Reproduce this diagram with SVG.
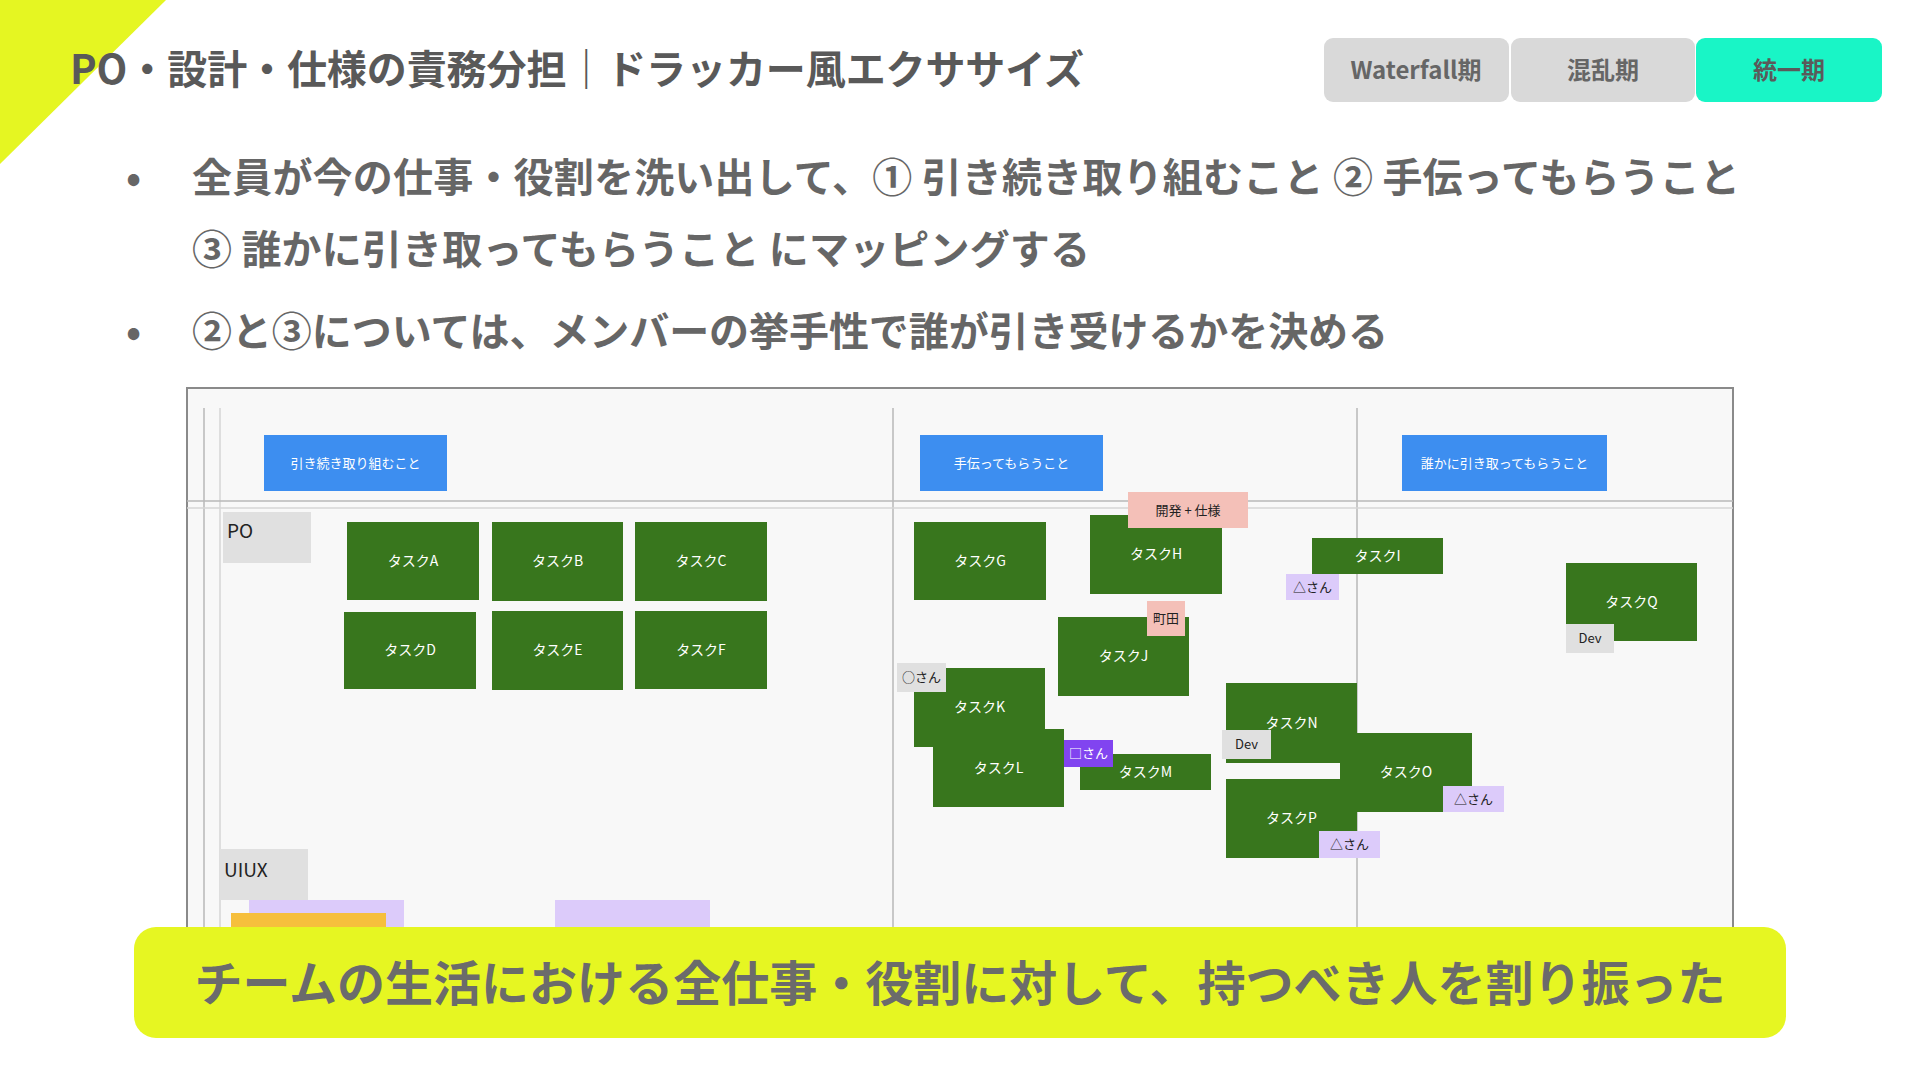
<svg xmlns="http://www.w3.org/2000/svg" width="1920" height="1079" viewBox="0 0 1920 1079">
<style>
text{font-family:"Noto Sans CJK JP","Noto Sans",sans-serif}
.title{font-size:40px;font-weight:700;fill:#595959}
.bul{font-size:40px;font-weight:700;fill:#666666}
.tab{font-size:24px;font-weight:700;fill:#666666}
.task rect{fill:#38761d}
.task text{font-size:14px;fill:#ffffff;text-anchor:middle}
.hdr rect{fill:#3d8ef0}
.hdr text{font-size:13px;fill:#ffffff;text-anchor:middle}
.lbl text{font-size:13px;fill:#222222;text-anchor:middle}
.pink{fill:#f4c0b8}
.lav{fill:#dccbfa}
.gry{fill:#e0e0e0}
.pur{fill:#8144f0}
.row text{font-size:19px;fill:#222222}
.bline{stroke:#b8b8b8;stroke-width:1.5}
.bline2{stroke:#d6d6d6;stroke-width:1.5}
</style>
<rect x="0" y="0" width="1920" height="1079" fill="#ffffff"/>
<polygon id="corner" points="0,0 166,0 0,164" fill="#e5f622"/>
<text class="title" x="70" y="84" textLength="1014" lengthAdjust="spacing">PO・設計・仕様の責務分担｜ドラッカー風エクササイズ</text>

<g id="tab-waterfall"><rect x="1324" y="38" width="185" height="64" rx="9" fill="#d9d9d9"/><text class="tab" x="1416" y="79" text-anchor="middle">Waterfall期</text></g>
<g id="tab-konran"><rect x="1511" y="38" width="184" height="64" rx="9" fill="#d9d9d9"/><text class="tab" x="1603" y="79" text-anchor="middle">混乱期</text></g>
<g id="tab-toitsu"><rect x="1696" y="38" width="186" height="64" rx="9" fill="#19f5c6"/><text class="tab" x="1789" y="79" text-anchor="middle" style="fill:#5a5a5a">統一期</text></g>

<g id="bullets">
<text class="bul" x="126" y="192">•</text>
<text class="bul" x="192" y="192" textLength="1548" lengthAdjust="spacing">全員が今の仕事・役割を洗い出して、① 引き続き取り組むこと ② 手伝ってもらうこと</text>
<text class="bul" x="192" y="264" textLength="898" lengthAdjust="spacing">③ 誰かに引き取ってもらうこと にマッピングする</text>
<text class="bul" x="126" y="346">•</text>
<text class="bul" x="192" y="346" textLength="1196" lengthAdjust="spacing">②と③については、メンバーの挙手性で誰が引き受けるかを決める</text>
</g>

<g id="board">
<rect x="187" y="388" width="1546" height="580" fill="#f8f8f8" stroke="#8a8a8a" stroke-width="2"/>
<line class="bline" x1="204" y1="408" x2="204" y2="968"/>
<line class="bline2" x1="220" y1="408" x2="220" y2="968"/>
<line class="bline" x1="893" y1="408" x2="893" y2="968"/>
<line class="bline" x1="1357" y1="408" x2="1357" y2="968"/>
<line class="bline" x1="187" y1="501" x2="1733" y2="501"/>
<line class="bline2" x1="187" y1="508" x2="1733" y2="508"/>
</g>

<g id="hdr-1" class="hdr"><rect x="264" y="435" width="183" height="56"/><text x="355.5" y="468">引き続き取り組むこと</text></g>
<g id="hdr-2" class="hdr"><rect x="920" y="435" width="183" height="56"/><text x="1011.5" y="468">手伝ってもらうこと</text></g>
<g id="hdr-3" class="hdr"><rect x="1402" y="435" width="205" height="56"/><text x="1504.5" y="468">誰かに引き取ってもらうこと</text></g>

<g id="row-po" class="row"><rect x="223" y="512" width="88" height="51" class="gry"/><text x="227" y="538">PO</text></g>
<g id="row-uiux" class="row"><rect x="220" y="849" width="88" height="51" class="gry"/><text x="224" y="877">UIUX</text></g>

<g id="taskA" class="task"><rect x="347" y="522" width="132" height="78"/><text x="413" y="566">タスクA</text></g>
<g id="taskB" class="task"><rect x="492" y="522" width="131" height="79"/><text x="557.5" y="566">タスクB</text></g>
<g id="taskC" class="task"><rect x="635" y="522" width="132" height="79"/><text x="701" y="566">タスクC</text></g>
<g id="taskD" class="task"><rect x="344" y="612" width="132" height="77"/><text x="410" y="655">タスクD</text></g>
<g id="taskE" class="task"><rect x="492" y="611" width="131" height="79"/><text x="557.5" y="655">タスクE</text></g>
<g id="taskF" class="task"><rect x="635" y="611" width="132" height="78"/><text x="701" y="655">タスクF</text></g>

<g id="taskG" class="task"><rect x="914" y="522" width="132" height="78"/><text x="980" y="566">タスクG</text></g>
<g id="taskH" class="task"><rect x="1090" y="515" width="132" height="79"/><text x="1156" y="559">タスクH</text></g>
<g id="lbl-dev-spec" class="lbl"><rect x="1128" y="492" width="120" height="36" class="pink"/><text x="1188" y="515">開発 + 仕様</text></g>
<g id="taskI" class="task"><rect x="1312" y="538" width="131" height="36"/><text x="1377.5" y="561">タスクI</text></g>
<g id="lbl-i" class="lbl"><rect x="1286" y="574" width="53" height="26" class="lav"/><text x="1312.5" y="592">△さん</text></g>
<g id="taskJ" class="task"><rect x="1058" y="617" width="131" height="79"/><text x="1123.5" y="661">タスクJ</text></g>
<g id="lbl-machida" class="lbl"><rect x="1147" y="601" width="38" height="35" class="pink"/><text x="1166" y="623">町田</text></g>
<g id="taskK" class="task"><rect x="914" y="668" width="131" height="79"/><text x="979.5" y="712">タスクK</text></g>
<g id="lbl-k" class="lbl"><rect x="897" y="663" width="49" height="29" class="gry"/><text x="921.5" y="682">○さん</text></g>
<g id="taskL" class="task"><rect x="933" y="729" width="131" height="78"/><text x="998.5" y="773">タスクL</text></g>
<g id="taskM" class="task"><rect x="1080" y="754" width="131" height="36"/><text x="1145.5" y="777">タスクM</text></g>
<g id="lbl-l" class="lbl"><rect x="1064" y="740" width="49" height="27" class="pur"/><text x="1088.5" y="758" style="fill:#ffffff">□さん</text></g>
<g id="taskN" class="task"><rect x="1226" y="683" width="131" height="80"/><text x="1291.5" y="728">タスクN</text></g>
<g id="taskO" class="task"><rect x="1340" y="733" width="132" height="79"/><text x="1406" y="777">タスクO</text></g>
<g id="taskP" class="task"><rect x="1226" y="779" width="131" height="79"/><text x="1291.5" y="823">タスクP</text></g>
<g id="lbl-n" class="lbl"><rect x="1222" y="730" width="49" height="29" class="gry"/><text x="1246.5" y="749">Dev</text></g>
<g id="lbl-o" class="lbl"><rect x="1443" y="786" width="61" height="26" class="lav"/><text x="1473.5" y="804">△さん</text></g>
<g id="lbl-p" class="lbl"><rect x="1319" y="831" width="61" height="27" class="lav"/><text x="1349.5" y="849">△さん</text></g>
<g id="taskQ" class="task"><rect x="1566" y="563" width="131" height="78"/><text x="1631.5" y="607">タスクQ</text></g>
<g id="lbl-q" class="lbl"><rect x="1566" y="624" width="48" height="29" class="gry"/><text x="1590" y="643">Dev</text></g>

<g id="uiux-items">
<rect x="249" y="900" width="155" height="60" class="lav"/>
<rect x="231" y="913" width="155" height="50" fill="#f6bf3c"/>
<rect x="555" y="900" width="155" height="60" class="lav"/>
</g>

<g id="banner">
<rect x="134" y="927" width="1652" height="111" rx="22" fill="#e6f622"/>
<text x="960" y="1001" text-anchor="middle" style="font-size:48px;font-weight:700;fill:#6b6b6b" textLength="1531" lengthAdjust="spacing">チームの生活における全仕事・役割に対して、持つべき人を割り振った</text>
</g>
</svg>
